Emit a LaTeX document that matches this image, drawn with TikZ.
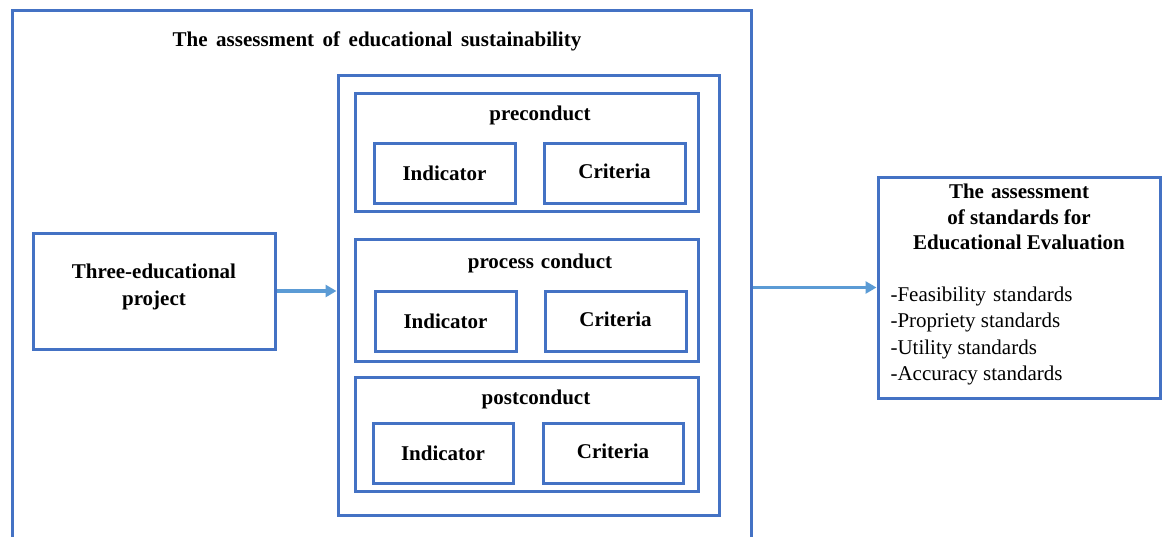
\documentclass[tikz,border=0pt]{standalone}
\usepackage{fontspec}
\setmainfont{Liberation Serif}
\usetikzlibrary{arrows.meta}
\definecolor{boxblue}{HTML}{4472C4}
\definecolor{arrblue}{HTML}{5B9BD5}
\begin{document}
\begin{tikzpicture}[x=1pt,y=-1pt,
  box/.style={draw=boxblue, line width=3pt, minimum width=#1, inner sep=0pt},
  lbl/.style={font=\fontsize{21}{24}\selectfont\bfseries},
  arr/.style={draw=arrblue, line width=3.2pt, -{Triangle[length=11pt,width=12pt]}}]
\useasboundingbox (0,0) rectangle (1162,536);
\node[box=739, minimum height=535] (outer) at (381.5,277.5) {};
\node[lbl] (title) at (377,41) {\spaceskip=8.5pt plus 1pt The assessment of educational sustainability};
\node[box=381, minimum height=440] (middle) at (528.5,295) {};
\node[box=343, minimum height=118] (pre) at (526.5,152) {};
\node[box=343, minimum height=122] (proc) at (526.5,300) {};
\node[box=343, minimum height=114] (post) at (526.5,434) {};
\node[lbl] (prel) at (540,115) {preconduct};
\node[lbl] (procl) at (540,263) {\spaceskip=7pt process conduct};
\node[lbl] (postl) at (536,399) {postconduct};
\node[box=141, minimum height=60, lbl] (ind1) at (444.5,173) {Indicator};
\node[box=141, minimum height=60, lbl] (cri1) at (614.5,173) {\raisebox{3pt}{Criteria}};
\node[box=141, minimum height=60, lbl] (ind2) at (445.5,321) {Indicator};
\node[box=141, minimum height=60, lbl] (cri2) at (615.5,321) {\raisebox{3pt}{Criteria}};
\node[box=140, minimum height=60, lbl] (ind3) at (443,453) {Indicator};
\node[box=140, minimum height=60, lbl] (cri3) at (613,453) {\raisebox{3pt}{Criteria}};
\node[box=242, minimum height=116] (three) at (154,291) {};
\node[align=center, font=\fontsize{21}{27}\selectfont\bfseries] (threel) at (154,287)
  {Three-educational\\project};
\node[box=282, minimum height=221] (right) at (1019,287.5) {};
\node[align=center, font=\fontsize{21}{25.5}\selectfont\bfseries] (rtitle) at (1019,217)
  {\spaceskip=7pt The assessment\\of standards for\\Educational Evaluation};
\node[align=left, anchor=west, font=\fontsize{21}{26.3}\selectfont] (rlist) at (887,336)
  {\spaceskip=7pt -Feasibility standards\\-Propriety standards\\-Utility standards\\-Accuracy standards};
\draw[arr] (three.east) -- (middle.west |- three.east);
\draw[arr] (outer.east |- right.west) -- (right.west);
\end{tikzpicture}
\end{document}
